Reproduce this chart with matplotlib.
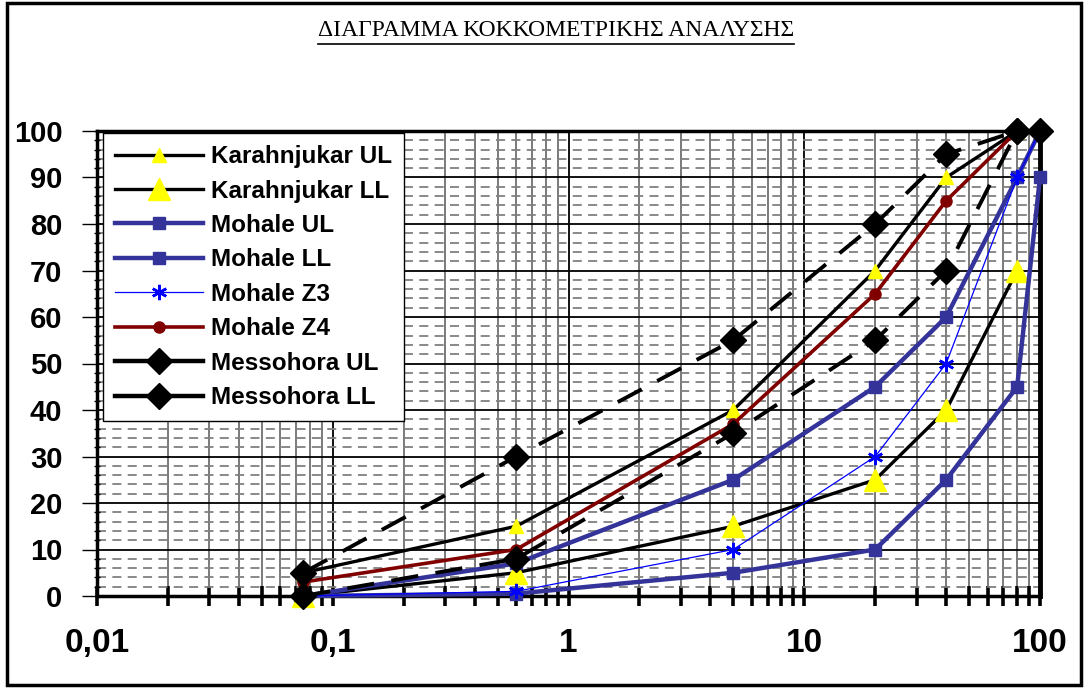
import numpy as np
import matplotlib
matplotlib.use("Agg")
import matplotlib.pyplot as plt
from matplotlib.ticker import FixedLocator, MultipleLocator, LogLocator, NullFormatter
from matplotlib.lines import Line2D
from matplotlib.patches import Rectangle

# sieve sizes (mm) and percent passing per curve
sizes = [0.075, 0.6, 5, 20, 40, 80, 100]

kar_ul = [5, 15, 40, 70, 90, 100]
kar_ll = [0, 5, 15, 25, 40, 70]
moh_ul = [0, 7, 25, 45, 60, 90, 100]
moh_ll = [0, 0.5, 5, 10, 25, 45, 90]
moh_z3 = [0, 1, 10, 30, 50, 90, 100]
moh_z4 = [3, 10, 37, 65, 85, 100]
mes_ul = [5, 30, 55, 80, 95, 100, 100]
mes_ll = [0, 8, 35, 55, 70, 100]

x_ticks = [0.01, 0.1, 1, 10, 100]
x_labels = ["0,01", "0,1", "1", "10", "100"]
y_ticks = list(range(0, 101, 10))

title = "ΔΙΑΓΡΑΜΜΑ ΚΟΚΚΟΜΕΤΡΙΚΗΣ ΑΝΑΛΥΣΗΣ"

navy = "#333399"

fig = plt.figure(figsize=(10.85, 6.88), dpi=100)
ax = fig.add_axes([97 / 1085, 1 - 596 / 688, (1040 - 97) / 1085, (596 - 131) / 688])

def n(vals):
    return sizes[:len(vals)]

ax.plot(n(kar_ul), kar_ul, color="black", lw=2.4, marker="^", ms=10, mfc="yellow", mec="yellow",
        label="Karahnjukar UL", clip_on=False, zorder=3)
ax.plot(n(kar_ll), kar_ll, color="black", lw=2.4, marker="^", ms=16, mfc="yellow", mec="yellow",
        label="Karahnjukar LL", clip_on=False, zorder=3)
ax.plot(n(moh_ul), moh_ul, color=navy, lw=3.2, marker="s", ms=8, mfc=navy, mec=navy,
        label="Mohale UL", clip_on=False, zorder=3)
ax.plot(n(moh_ll), moh_ll, color=navy, lw=3.2, marker="s", ms=8, mfc=navy, mec=navy,
        label="Mohale LL", clip_on=False, zorder=3)
ax.plot(n(moh_z3), moh_z3, color="#0000ff", lw=0.9, marker=(6, 2, 0), ms=11, mew=1.8,
        label="Mohale Z3", clip_on=False, zorder=3)
ax.plot(n(moh_z4), moh_z4, color="#800000", lw=2.6, marker="o", ms=8,
        label="Mohale Z4", clip_on=False, zorder=3)
ax.plot(n(mes_ul), mes_ul, color="black", lw=2.8, ls=(0, (7, 4.5)), marker="D", ms=13,
        label="Messohora UL", clip_on=False, zorder=3)
ax.plot(n(mes_ll), mes_ll, color="black", lw=2.8, ls=(0, (7, 4.5)), marker="D", ms=13,
        label="Messohora LL", clip_on=False, zorder=3)

ax.set_xscale("log")
ax.set_xlim(0.01, 100)
ax.set_ylim(0, 100)

ax.xaxis.set_major_locator(FixedLocator(x_ticks))
ax.set_xticklabels(x_labels)
ax.xaxis.set_minor_locator(LogLocator(base=10, subs=np.arange(2, 10)))
ax.xaxis.set_minor_formatter(NullFormatter())
ax.set_yticks(y_ticks)
ax.yaxis.set_minor_locator(MultipleLocator(2))

ax.grid(which="major", color="black", lw=1.3)
ax.grid(which="minor", axis="x", color="#707070", lw=1.3)
ax.grid(which="minor", axis="y", color="#808080", lw=1.3, ls=(0, (5, 3.5)))
ax.set_axisbelow(True)

ax.tick_params(axis="x", which="both", direction="inout", length=14, width=2.6, pad=16)
ax.tick_params(axis="y", which="major", direction="out", length=11, width=1, pad=14)
ax.tick_params(axis="y", which="minor", direction="inout", length=5, width=1)
for lab in ax.get_xticklabels():
    lab.set_fontfamily(["Liberation Sans", "DejaVu Sans"])
    lab.set_fontweight("bold")
    lab.set_fontsize(24)
for lab in ax.get_yticklabels():
    lab.set_fontfamily(["Liberation Sans", "DejaVu Sans"])
    lab.set_fontweight("bold")
    lab.set_fontsize(21)

for side in ["left", "bottom", "top"]:
    ax.spines[side].set_linewidth(2.5)
ax.spines["right"].set_linewidth(3.5)

leg = ax.legend(loc="upper left", bbox_to_anchor=(6 / 943, 1 - 2 / 465), fancybox=False,
                edgecolor="black", framealpha=1, handlelength=3.6, handletextpad=0.35,
                labelspacing=0.47, borderpad=0.5, borderaxespad=0,
                prop={"family": ["Liberation Sans", "DejaVu Sans"], "weight": "bold", "size": 17.5})
leg.get_frame().set_linewidth(1)
leg.set_zorder(5)
for h in leg.get_lines()[-2:]:
    h.set_linestyle("-")
    h.set_linewidth(3.2)

t = fig.text(0.5125, 1 - 31 / 688, title, ha="center", va="center",
             fontfamily=["Liberation Serif", "DejaVu Serif"], fontsize=17)
fig.canvas.draw()
bb = t.get_window_extent().transformed(fig.transFigure.inverted())
fig.add_artist(Line2D([bb.x0, bb.x1], [bb.y0 - 0.004, bb.y0 - 0.004], color="black", lw=1.2))

fig.add_artist(Rectangle((0.006, 0.004), 0.99, 0.992, fill=False, edgecolor="black", lw=2.5,
                         transform=fig.transFigure))

fig.savefig("out.png", dpi=100)
